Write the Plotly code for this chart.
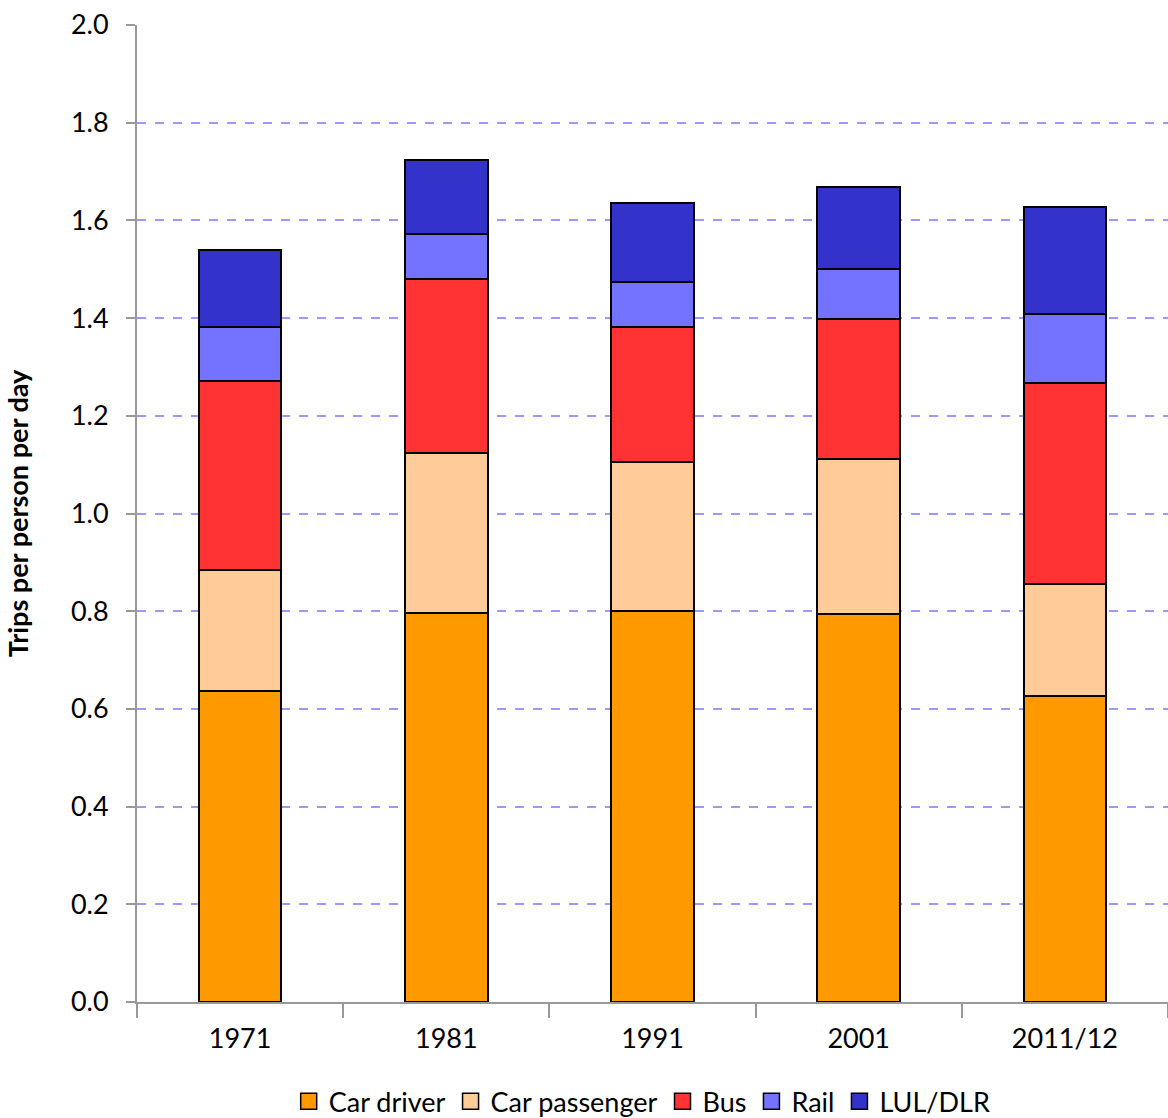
import plotly.graph_objects as go

# Trips per person per day by main mode, London
years = ["1971", "1981", "1991", "2001", "2011/12"]
car_driver = [0.637, 0.796, 0.800, 0.794, 0.626]
car_passenger = [0.247, 0.328, 0.305, 0.318, 0.230]
bus = [0.387, 0.356, 0.277, 0.286, 0.411]
rail = [0.111, 0.092, 0.092, 0.102, 0.141]
lul_dlr = [0.157, 0.152, 0.162, 0.168, 0.219]

series = [
    ("Car driver", car_driver, "#FF9900"),
    ("Car passenger", car_passenger, "#FFCC99"),
    ("Bus", bus, "#FF3333"),
    ("Rail", rail, "#7373FF"),
    ("LUL/DLR", lul_dlr, "#3333CC"),
]

FONT = "Lato"
FS = 27

fig = go.Figure()
for name, vals, color in series:
    fig.add_trace(go.Bar(
        x=years, y=vals, name=name, showlegend=False,
        marker=dict(color=color, line=dict(color="black", width=2)),
        width=0.4,
    ))
# legend keys drawn as outlined squares
for name, vals, color in series:
    fig.add_trace(go.Scatter(
        x=[None], y=[None], name=name, mode="markers",
        marker=dict(symbol="square", size=16, color=color,
                    line=dict(color="black", width=1.5)),
    ))

fig.update_layout(
    barmode="stack",
    width=1168, height=1118,
    margin=dict(l=137, r=0, t=25, b=116, autoexpand=False),
    plot_bgcolor="white", paper_bgcolor="white",
    font=dict(family=FONT, size=FS, color="black"),
    legend=dict(
        orientation="h", x=0.49, xanchor="center", y=-0.077, yanchor="top",
        font=dict(family=FONT, size=FS), traceorder="normal",
        itemwidth=30, tracegroupgap=0,
    ),
    xaxis=dict(
        type="category", showline=True, linecolor="#999999", linewidth=2,
        ticks="outside", tickson="boundaries", ticklen=14, tickcolor="#999999",
        tickwidth=2, showgrid=False, tickfont=dict(size=FS),
        ticklabelstandoff=12,
    ),
    yaxis=dict(
        range=[0, 2.0], dtick=0.2, tickformat=".1f",
        showline=True, linecolor="#999999", linewidth=2,
        ticks="outside", ticklen=9, tickcolor="#999999", tickwidth=2,
        showgrid=True, gridcolor="#9999FF", griddash="dash", gridwidth=1.5,
        zeroline=False, tickfont=dict(size=FS), ticklabelstandoff=12,
        title=dict(text="<b>Trips per person per day</b>", font=dict(size=27), standoff=34),
    ),
)

fig.write_html("out.html")
